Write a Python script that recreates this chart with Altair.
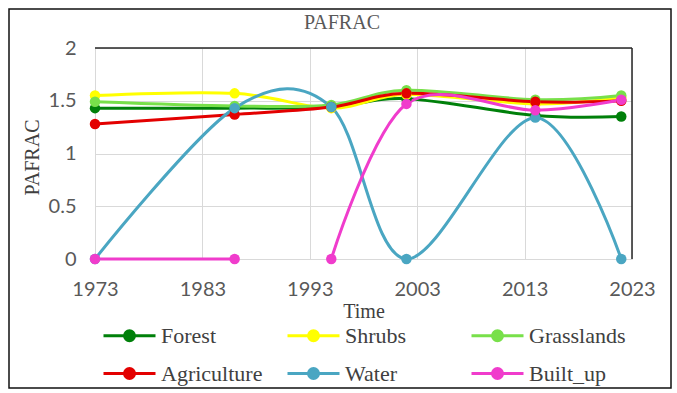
import altair as alt
import pandas as pd

# Survey years and PAFRAC value for each land-cover class
years = [1973, 1986, 1995, 2002, 2014, 2022]
series_names = ["Forest", "Shrubs", "Grasslands", "Agriculture", "Water", "Built_up"]
series_colors = ["#00800a", "#ffff00", "#78e04a", "#e30000", "#4aa6c2", "#f03ccc"]

forest = [1.43, 1.43, 1.44, 1.52, 1.36, 1.35]
shrubs = [1.55, 1.57, 1.43, 1.56, 1.47, 1.53]
grasslands = [1.49, 1.45, 1.46, 1.60, 1.51, 1.55]
agriculture = [1.28, 1.37, 1.44, 1.57, 1.49, 1.50]
water = [0, 1.43, 1.44, 0, 1.34, 0]
built_up = [0, 0, 0, 1.47, 1.41, 1.51]

# Built_up line is broken between 1986 and 1995
built_up_segments = [0, 0, 1, 1, 1, 1]
single_segment = [0, 0, 0, 0, 0, 0]

series_values = [forest, shrubs, grasslands, agriculture, water, built_up]
series_segments = [single_segment] * 5 + [built_up_segments]

x_ticks = [1973, 1983, 1993, 2003, 2013, 2023]
y_ticks = [0, 0.5, 1, 1.5, 2]

rows = []
for name, vals, segs in zip(series_names, series_values, series_segments):
    for yr, v, s in zip(years, vals, segs):
        rows.append({"series": name, "year": yr, "value": v, "part": f"{name}-{s}"})
df = pd.DataFrame(rows)

# The legend grid fills column by column, so list the names in that order
legend_order = ["Forest", "Agriculture", "Shrubs", "Water", "Grasslands", "Built_up"]
legend_colors = [series_colors[series_names.index(n)] for n in legend_order]

W, H = 537, 211
SERIF = "Liberation Serif"
SANS = "Lato"

legend_symbol = "M-1,0L4.2,0M1.1,0A0.5,0.5,0,1,1,2.1,0A0.5,0.5,0,1,1,1.1,0Z"

color = alt.Color(
    "series:N",
    scale=alt.Scale(domain=legend_order, range=legend_colors),
    sort=legend_order,
    legend=alt.Legend(
        orient="none", legendX=7, legendY=276, columns=3, title=None,
        symbolType=legend_symbol, symbolSize=400, symbolStrokeWidth=3,
        labelFont=SERIF, labelFontSize=22, labelColor="#404040",
        labelOffset=36, columnPadding=18, rowPadding=15, gridAlign="all",
        padding=0, labelLimit=0,
    ),
)

x = alt.X(
    "year:Q",
    scale=alt.Scale(domain=[1973, 2023], nice=False, zero=False),
    axis=alt.Axis(
        values=x_ticks, format="d", title="Time",
        labelFont=SANS, labelFontSize=20, labelColor="#595959", labelPadding=20,
        labelFlush=False, labelBound=False,
        domain=False, ticks=False, grid=True, gridColor="#d9d9d9",
        titleFont=SERIF, titleFontSize=20, titleFontWeight="normal", titleColor="#404040",
        titleX=W / 2, titleY=52, titleBaseline="middle", titleAlign="center",
    ),
)
y = alt.Y(
    "value:Q",
    scale=alt.Scale(domain=[0, 2], nice=False),
    axis=alt.Axis(
        values=y_ticks, format="~g", title="PAFRAC",
        labelFont=SANS, labelFontSize=20, labelColor="#595959", labelPadding=19,
        domain=False, ticks=False, grid=True, gridColor="#d9d9d9",
        titleFont=SERIF, titleFontSize=20, titleFontWeight="normal", titleColor="#404040",
        titleAngle=270, titleX=-63, titleY=109, titleAlign="center", titleBaseline="middle",
    ),
)

base = alt.Chart(df)
lines = base.mark_line(interpolate="cardinal", strokeWidth=3).encode(
    x=x, y=y, color=color, detail="part:N"
)
points = base.mark_point(filled=True, size=110, opacity=1).encode(
    x=x, y=y, color=color
)

deco = alt.Chart(alt.Data(values=[{}]))
outer_frame = deco.mark_rect(fillOpacity=0, stroke="#111111", strokeWidth=1.5).encode(
    x=alt.value(-86), x2=alt.value(576), y=alt.value(-39), y2=alt.value(340)
)
top_edge = deco.mark_rule(color="#262626", strokeWidth=1.5).encode(
    x=alt.value(0), x2=alt.value(W), y=alt.value(0)
)
right_edge = deco.mark_rule(color="#262626", strokeWidth=1.5).encode(
    x=alt.value(W), y=alt.value(0), y2=alt.value(H)
)
chart_title = deco.mark_text(
    text="PAFRAC", font=SERIF, fontSize=20, color="#595959",
    align="center", baseline="middle",
).encode(x=alt.value(247), y=alt.value(-25))

chart = alt.layer(outer_frame, top_edge, right_edge, chart_title, lines, points).properties(
    width=W, height=H,
    autosize=alt.AutoSizeParams(type="none"),
    padding={"left": 95, "top": 48, "right": 45, "bottom": 134},
).configure_view(stroke=None)

chart.save("out.html", embed_options={"renderer": "svg", "actions": False})
